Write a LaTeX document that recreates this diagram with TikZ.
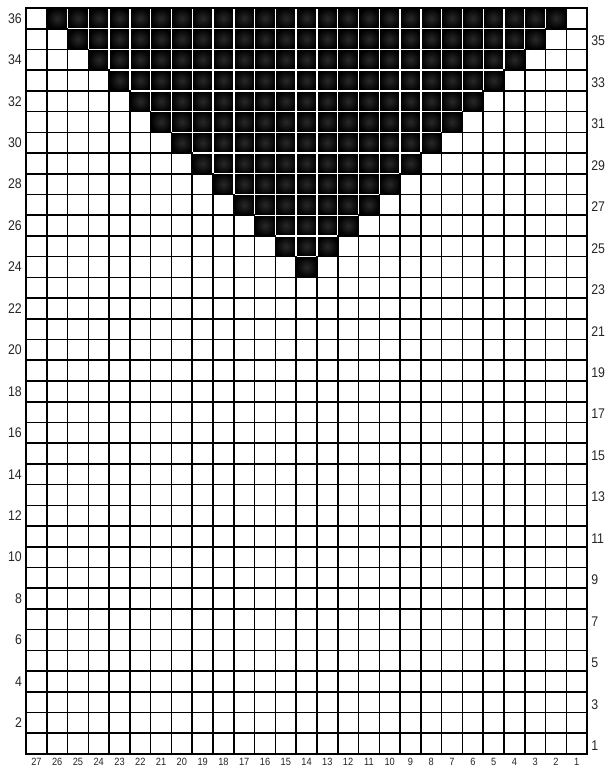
\documentclass[tikz,border=0pt]{standalone}
\usepackage{fontspec}
\newfontfamily\labfont[FakeStretch=0.88]{Liberation Sans}
\begin{document}
\begin{tikzpicture}[x=20.78pt,y=20.72pt,
  gridline/.style={line width=1.6pt, black, line cap=rect},
  whiteline/.style={white, line width=1.4pt, shorten <=0.8pt, shorten >=0.8pt},
  cellfill/.style={inner color=black!84, outer color=black},
  sidelab/.style={font=\labfont\fontsize{14}{14}\selectfont, text=black!85, inner sep=0pt},
  botlab/.style={font=\labfont\fontsize{10.5}{10.5}\selectfont, text=black!85, inner sep=0pt}]
\useasboundingbox[fill=white] (-1.2512,-0.917) rectangle (28.105,36.386);
% black cells
\foreach \r in {24,...,36}{
  \pgfmathtruncatemacro\a{37-\r}
  \pgfmathtruncatemacro\b{\r-11}
  \foreach \i in {\a,...,\b}{
    \shade[cellfill] (\i,\r-1) rectangle ++(1,1);
  }
}
% grid lines
\foreach \k in {0,...,36}{ \draw[gridline] (0,\k) -- (27,\k); }
\foreach \k in {0,...,27}{ \draw[gridline] (\k,0) -- (\k,36); }
% white internal lines
\foreach \k in {2,...,25}{
  \pgfmathtruncatemacro\lo{max(37-\k,\k+10)}
  \draw[whiteline] (\k,\lo) -- (\k,36);
}
\foreach \m in {24,...,35}{
  \pgfmathtruncatemacro\xa{37-\m}
  \pgfmathtruncatemacro\xb{\m-10}
  \draw[whiteline] (\xa,\m) -- (\xb,\m);
}
% labels
\foreach \r in {2,4,...,36}{ \node[sidelab, anchor=east] (L\r) at (-0.19,\r-0.5) {\r}; }
\foreach \r in {1,3,...,35}{ \node[sidelab, anchor=west] (R\r) at (27.19,\r-0.6) {\r}; }
\foreach \i in {0,...,26}{
  \pgfmathtruncatemacro\c{27-\i}
  \node[botlab] (B\c) at (\i+0.5,-0.386) {\c};
}
\end{tikzpicture}
\end{document}
